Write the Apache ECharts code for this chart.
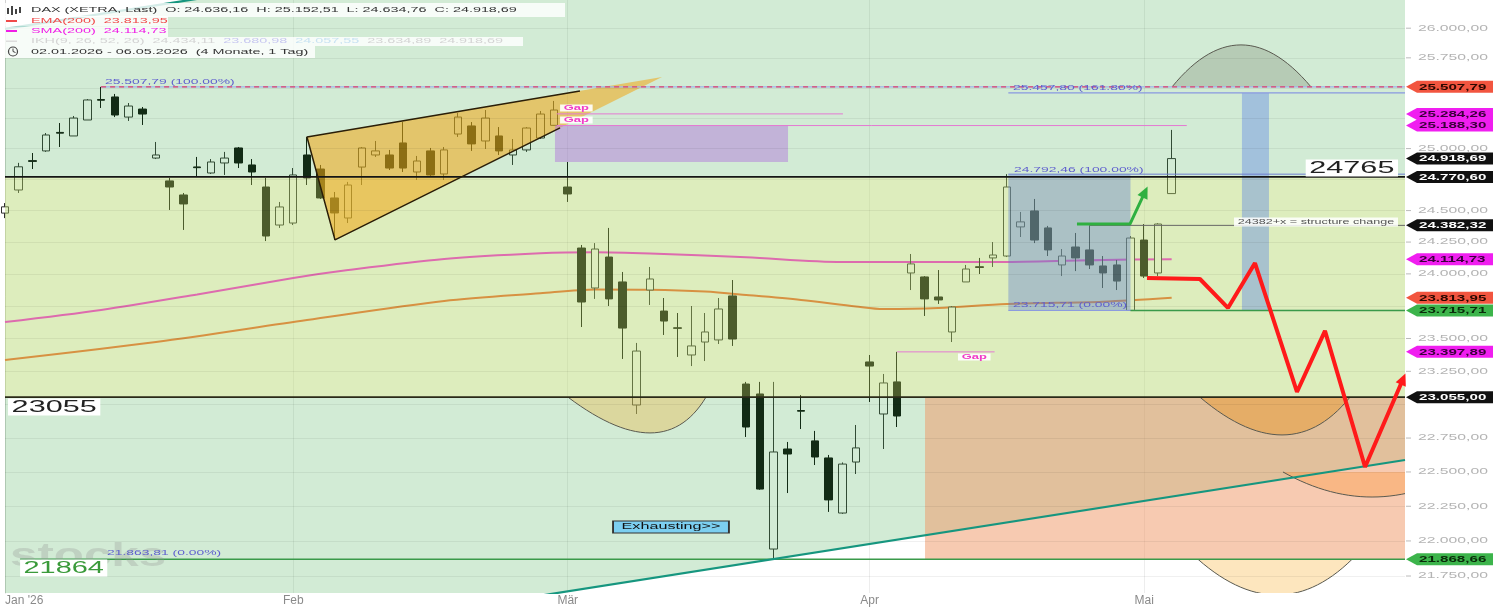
<!DOCTYPE html>
<html>
<head>
<meta charset="utf-8">
<script src="https://cdn.jsdelivr.net/npm/echarts@6/dist/echarts.min.js"></script>
<style>html,body{margin:0;padding:0;background:#fff}#main{width:1507px;height:607px}</style>
</head>
<body>
<div id="main"></div>
<script>
// Handelstage (Xetra) 2026, inkl. Zukunft bis Ende Mai
var tradingDays = {
  '01': [2,5,6,7,8,9,12,13,14,15,16,19,20,21,22,23,26,27,28,29,30],
  '02': [2,3,4,5,6,9,10,11,12,13,16,17,18,19,20,23,24,25,26,27],
  '03': [2,3,4,5,6,9,10,11,12,13,16,17,18,19,20,23,24,25,26,27,30,31],
  '04': [1,2,7,8,9,10,13,14,15,16,17,20,21,22,23,24,27,28,29,30],
  '05': [4,5,6,7,8,11,12,13,14,15,18,19,20,21,22,25,26,27,28,29]
};
var monthNames = {'01': "Jan '26", '02': 'Feb', '03': 'Mär', '04': 'Apr', '05': 'Mai'};

// DAX Tageskerzen [open, high, low, close]
var candles = [
[24480,24560,24440,24530],[24665,24884,24641,24852],[24902,24964,24834,24896],[24981,25127,24973,25111],
[25132,25209,25013,25126],[25103,25267,25103,25250],[25234,25407,25234,25399],[25403,25507.79,25333,25397],
[25424,25449,25258,25275],[25258,25374,25226,25349],[25324,25341,25193,25283],[24923,25054,24915,24948],
[24738,24762,24505,24689],[24625,24641,24346,24553],[24851,24932,24770,24845],[24802,24915,24794,24891],
[24883,24973,24786,24923],[25005,25013,24842,24883],[24867,24915,24705,24810],[24689,24762,24258,24298],
[24385,24569,24362,24529],[24401,24842,24385,24786],[24948,25095,24705,24762],[24834,24867,24593,24601],
[24601,24649,24266,24481],[24441,24730,24401,24705],[24850,25013,24705,25005],[24948,25062,24932,24981],
[24948,24989,24826,24842],[25046,25217,24810,24842],[24810,24940,24746,24899],[24981,25005,24778,24786],
[24794,25013,24746,24989],[25119,25291,25095,25258],[25185,25217,24981,25038],[25062,25316,24997,25250],
[25103,25176,24948,24981],[24948,25078,24867,24989],[24989,25176,24973,25168],[25086,25308,25078,25283],
[25190,25391,25188.3,25316],[24689,24891,24569,24633],[24203,24227,23588,23781],[23890,24242,23805,24195],
[24132,24362,23750,23805],[23937,24015,23344,23580],[22996,23466,22929,23404],[23874,24054,23758,23960],
[23711,23812,23527,23634],[23582,23696,23359,23578],[23374,23750,23290,23443],[23473,23696,23328,23550],
[23489,23812,23458,23727],[23828,23952,23443,23496],[23154,23170,22758,22832],[23079,23170,22370,22375],
[21942,23170,21863.81,22647],[22669,22721,22346,22632],[22955,23071,22817,22950],[22729,22803,22551,22610],
[22603,22625,22209,22296],[22201,22570,22195,22558],[22573,22847,22485,22677],[23321,23374,23019,23290],
[22929,23230,22669,23162],[23170,23397.89,22832,22914],[24007,24156,23874,24078],[23976,23983,23673,23805],
[23820,24030,23766,23797],[23550,23750,23473,23742],[23937,24070,23937,24038],[24056,24125,23999,24050],
[24125,24250,24054,24148],[24140,24792.46,24132,24689],[24370,24489,24290,24410],[24497,24593,24242,24266],
[24362,24378,24140,24188],[24070,24195,23983,24140],[24211,24322,24022,24125],[24188,24382.32,24038,24070],
[24062,24140,23890,24007],[24070,24109,23874,23944],[23715.71,24298,23715.71,24282],[24266,24393,23968,23983],
[24007,24400,23983,24393],[24636.16,25152.51,24634.76,24918.69]
];

// Indikatoren [index, wert]
var sma200 = [[0,23627],[7,23720],[14,23840],[21,23968],[25,24030],[32,24117],[39,24162],[43,24170],[47,24160],
  [54,24130],[61,24093],[68,24093],[73,24093],[80,24109],[85,24114.73]];
var ema200 = [[0,23336],[11,23473],[22,23642],[32,23789],[39,23849],[43,23878],[47,23876],[51,23862],[54,23836],
  [58,23797],[62,23746],[64,23726],[68,23734],[73,23766],[80,23784],[85,23813.95]];

var yTicks = [21750,22000,22250,22500,22750,23000,23250,23500,23750,24000,24250,24500,24750,25000,25250,25500,25750,26000];
var priceTags = [[25507.79,'red'],[25284.26,'mag'],[25188.30,'mag'],[24918.69,'blk'],[24770.60,'blk'],[24382.32,'blk'],
  [24114.73,'mag'],[23813.95,'red'],[23715.71,'grn'],[23397.89,'mag'],[23055.00,'blk'],[21868.66,'grn']];

// Zeichnungen (index, kurs)
var zones = [
  {pts: [[0,25994],[20,26360],[102,26360],[102,24770.6],[0,24770.6]], fill: 'rgba(64,170,77,0.235)'},
  {pts: [[0,24770.6],[102,24770.6],[102,23055],[0,23055]], fill: 'rgba(174,212,99,0.425)'},
  {pts: [[0,23055],[102,23055],[102,22588],[34.61,21545],[0,21545]], fill: 'rgba(64,170,77,0.235)'}
];
var boxes = [
  {pts: [[22.0,25095],[47.87,25590],[24.04,24267]], fill: 'rgba(240,165,20,0.55)'},
  {pts: [[40.07,25188.3],[57.05,25188.3],[57.05,24891],[40.07,24891]], fill: 'rgba(175,110,220,0.45)'},
  {pts: [[73.1,24792.46],[82.0,24792.46],[82.0,23715.71],[73.1,23715.71]], fill: 'rgba(90,120,210,0.38)'},
  {pts: [[90.12,25457.8],[92.09,25457.8],[92.09,23715.71],[90.12,23715.71]], fill: 'rgba(90,130,230,0.4)'},
  {pts: [[67.03,23055],[102,23055],[102,21868.66],[67.03,21868.66]], fill: 'rgba(240,150,100,0.5)'}
];
var arcs = [ // start, scheitel, ende
  {pts: [[85.03,25507.79],[90.05,25859],[95.15,25507.79]], fill: 'rgba(120,130,110,0.3)'},
  {pts: [[41.02,23055],[46.99,22788],[51.07,23055]], fill: 'rgba(230,190,90,0.45)'},
  {pts: [[87.06,23055],[93.04,22773],[97.99,23055]], fill: 'rgba(235,150,40,0.45)'},
  {pts: [[93.11,22500],[99.6,22317],[106.1,22500]], fill: 'rgba(250,160,80,0.45)'},
  {pts: [[86.92,21868.66],[92.68,21616],[98.14,21868.66]], fill: 'rgba(250,200,110,0.45)'}
];
var wedgeEdges = [[41.89,25474],[22.0,25095],[24.04,24267],[40.44,25169]];
var redPath = [[83.2,23968],[87.06,23960],[89.1,23735],[91.07,24085],[94.13,23094],[96.17,23558],[99.09,22536],[101.86,23192]];
var greenArrow = [[78.1,24393],[81.96,24393],[83.06,24649]];
var tealLow = [[34.61,21545],[102,22588]];
var tealHigh = [[0,25994],[20,26360]];

var fibLabels = [['25.507,79 (100.00%)',[7.29,25549]],['21.863,81 (0.00%)',[7.43,21914]],['25.457,80 (161.80%)',[73.44,25499]],
  ['24.792,46 (100.00%)',[73.51,24826]],['23.715,71 (0.00%)',[73.44,23758]]];
var gapLabels = [[40.44,25333],[40.44,25234],[69.43,23359]];

// ---- aufbereitung
var dates = [], monthStart = {};
Object.keys(tradingDays).forEach(function (m) {
  tradingDays[m].forEach(function (d, k) {
    if (k === 0) monthStart[dates.length] = monthNames[m];
    dates.push('2026-' + m + '-' + (d < 10 ? '0' + d : d));
  });
});
var kData = candles.map(function (c) { return [c[0], c[3], c[2], c[1]]; });

function fmt(v) {
  var s = v.toFixed(2).split('.');
  return s[0].replace(/\B(?=(\d{3})+(?!\d))/g, '.') + ',' + s[1];
}

function arcPoints(p) {
  var c = [2 * p[1][0] - (p[0][0] + p[2][0]) / 2, 2 * p[1][1] - (p[0][1] + p[2][1]) / 2], out = [];
  for (var k = 0; k <= 30; k++) {
    var t = k / 30, a = (1 - t) * (1 - t), b = 2 * t * (1 - t), d = t * t;
    out.push([a * p[0][0] + b * c[0] + d * p[2][0], a * p[0][1] + b * c[1] + d * p[2][1]]);
  }
  return out;
}

function shapeSeries(list, z, isArc) {
  return {
    type: 'custom', xAxisIndex: 1, yAxisIndex: 0, z: z, silent: true,
    data: list.map(function (s, k) { return [k]; }),
    renderItem: function (params, api) {
      var s = list[params.dataIndex];
      var pts = s.pts.map(function (p) { return api.coord(p); });
      var cs = params.coordSys;
      var kids = [];
      if (isArc) {
        pts = arcPoints(pts);
        kids.push({type: 'polygon', shape: {points: pts}, style: {fill: s.fill}});
        kids.push({type: 'polyline', shape: {points: pts}, style: {fill: null, stroke: '#5a5a50', lineWidth: 1}});
      } else {
        kids.push({type: 'polygon', shape: {points: pts}, style: {fill: s.fill}});
      }
      return {type: 'group', children: kids,
        clipPath: {type: 'rect', shape: {x: cs.x, y: cs.y, width: cs.width, height: cs.height}}};
    }
  };
}

function lineS(pts, color, width, z, extra) {
  var s = {type: 'line', xAxisIndex: 1, yAxisIndex: 0, data: pts, z: z, silent: true,
    symbol: 'none', showSymbol: true, animation: false,
    lineStyle: {color: color, width: width}, itemStyle: {color: color}};
  if (extra) Object.keys(extra).forEach(function (k) { s[k] = extra[k]; });
  return s;
}

function withArrow(pts, color, rot) {
  return pts.map(function (p, k) {
    if (k < pts.length - 1) return p;
    return {value: p, symbol: 'triangle', symbolSize: [11, 12], symbolRotate: rot, itemStyle: {color: color}};
  });
}

var option = {
  animation: false,
  backgroundColor: '#ffffff',
  grid: {left: 5, right: 102, top: 0, bottom: 14, containLabel: false, outerBoundsMode: 'none'},
  xAxis: [{
    type: 'category', data: dates, boundaryGap: false,
    axisLine: {show: false}, axisTick: {show: false},
    axisLabel: {
      interval: function (i) { return monthStart[i] !== undefined; },
      formatter: function (v, i) { return monthStart[i] || ''; },
      color: '#8a8a8a', fontSize: 12, margin: 2, fontFamily: 'Liberation Sans',
      alignMinLabel: 'left'
    },
    splitLine: {show: true, interval: function (i) { return monthStart[i] !== undefined; },
      lineStyle: {color: 'rgba(0,0,0,0.07)'}}
  }, {
    type: 'value', min: 0, max: 102, show: false
  }],
  yAxis: {
    type: 'log', logBase: 10, min: 21630, max: 26240, position: 'right',
    axisLine: {show: true, lineStyle: {color: '#d2d2d2'}},
    axisTick: {show: false}, axisLabel: {show: false}, splitLine: {show: false}
  },
  series: [
    lineS([[0, 24000]], 'rgba(0,0,0,0)', 0, 1, {
      markLine: {silent: true, symbol: 'none', label: {show: false},
        lineStyle: {color: 'rgba(0,0,0,0.06)', width: 1, type: 'solid'},
        data: yTicks.map(function (v) { return {yAxis: v}; })}
    }),
    {
      type: 'candlestick', xAxisIndex: 0, yAxisIndex: 0, data: kData, barWidth: 8, z: 2,
      itemStyle: {color: '#ffffff', color0: '#050505', borderColor: '#2e2e2e', borderColor0: '#050505', borderWidth: 1}
    },
    lineS(sma200, '#ff1ee6', 2, 2, {smooth: 0.3}),
    lineS(ema200, '#f5602a', 2, 2, {smooth: 0.3}),
    shapeSeries(zones, 3, false),
    shapeSeries(boxes, 4, false),
    shapeSeries(arcs, 4, true),
    lineS([[7, 25507.79], [102, 25507.79]], '#9cb4e8', 1.2, 5),
    lineS([[7, 25507.79], [102, 25507.79]], '#e0406a', 1.2, 5, {lineStyle: {color: '#e0406a', width: 1.2, type: [5, 4]}}),
    lineS([[73.1, 25457.8], [102, 25457.8]], '#8898e0', 1.2, 5),
    lineS([[73.1, 24792.46], [102, 24792.46]], '#6f7fd0', 1, 5),
    lineS([[73.1, 23715.71], [102, 23715.71]], '#8898e0', 1, 5),
    lineS([[82, 23715.71], [102, 23715.71]], '#3a9a4a', 1.5, 5),
    lineS([[40.2, 25284.26], [61.05, 25284.26]], '#e47ad2', 1, 5),
    lineS([[40.2, 25188.3], [86.1, 25188.3]], '#e47ad2', 1, 5),
    lineS([[65, 23397.89], [72.1, 23397.89]], '#e47ad2', 1, 5),
    lineS([[79, 24382.32], [102, 24382.32]], '#666666', 1, 5),
    lineS([[0, 24770.6], [102, 24770.6]], '#151515', 1.6, 5),
    lineS([[0, 23055], [102, 23055]], '#2a2a18', 1.6, 5),
    lineS([[1.1, 21868.66], [102, 21868.66]], '#3a9a4a', 1.6, 5),
    lineS(tealLow, '#16967f', 2.2, 5),
    lineS(tealHigh, '#16967f', 2.2, 5),
    lineS(wedgeEdges, '#2a1e08', 1.5, 5),
    lineS(withArrow(greenArrow, '#2fb040', -25), '#2fb040', 3, 6),
    lineS(withArrow(redPath, '#ff1a1a', -23), '#ff1a1a', 4, 6)
  ]
};

var chart = echarts.init(document.getElementById('main'));
chart.setOption(option);

// ---- texte und preis-marken
var px = function (i) { return chart.convertToPixel({xAxisIndex: 1}, i); };
var py = function (v) { return chart.convertToPixel({yAxisIndex: 0}, v); };
var FF = '"Liberation Sans", Arial, sans-serif';
var SX = 1.85;
var els = [];

function txt(x, y, text, size, fill, o) {
  o = o || {};
  var st = {text: text, x: 0, y: 0, font: (o.bold ? 'bold ' : '') + size + 'px ' + FF, fill: fill,
    align: o.align || 'left', verticalAlign: 'middle'};
  if (o.bg) { st.backgroundColor = o.bg; st.padding = o.pad || [1, 2]; }
  if (o.border) { st.borderColor = o.border; st.borderWidth = 1; }
  if (o.rich) st.rich = o.rich;
  els.push({type: 'text', x: x, y: y, scaleX: o.sx || SX, z: o.z || 20, silent: true, style: st});
}

var axisX = px(102);

// Achsenbeschriftung rechts
yTicks.forEach(function (v) {
  var y = py(v);
  var hidden = priceTags.some(function (t) { return Math.abs(py(t[0]) - y) < 9; });
  if (hidden) return;
  els.push({type: 'line', silent: true, z: 15, shape: {x1: axisX + 1, y1: y, x2: axisX + 6, y2: y}, style: {stroke: '#bbbbbb', lineWidth: 1}});
  txt(axisX + 13, y, fmt(v), 8.5, '#b4b4b4');
});

var tagColors = {red: ['#f2553f', '#2a0800'], mag: ['#f01ef0', '#3a003a'], blk: ['#101010', '#ffffff'], grn: ['#3cb44b', '#0a2a0a']};
priceTags.forEach(function (t) {
  var y = py(t[0]), c = tagColors[t[1]];
  els.push({type: 'polygon', silent: true, z: 25,
    shape: {points: [[axisX + 1, y], [axisX + 12, y - 6], [axisX + 88, y - 6], [axisX + 88, y + 6], [axisX + 12, y + 6]]},
    style: {fill: c[0]}});
  txt(axisX + 14, y + 0.5, fmt(t[0]), 8.5, c[1], {bold: true, z: 26, sx: 1.78});
});

// Fibonacci-Texte
fibLabels.forEach(function (f) {
  txt(px(f[1][0]), py(f[1][1]), f[0], 7.5, '#5f5fcf');
});
gapLabels.forEach(function (g) {
  txt(px(g[0]), py(g[1]), 'Gap', 7, '#f03cc8', {bold: true, bg: 'rgba(255,255,255,0.9)', pad: [0, 2]});
});

// Grosse Markierungen
txt(px(101.49), py(24843), '24765', 17, '#222222', {align: 'right', bg: '#ffffff', pad: [0, 2], sx: 1.8});
txt(px(0.22), py(22981), '23055', 17, '#222222', {bg: '#ffffff', pad: [0, 2], sx: 1.8});
// Wasserzeichen
els.push({type: 'text', x: 10, y: py(21890), scaleX: 1.45, z: 18, silent: true,
  style: {text: 'stocks', x: 0, y: 0, font: 'bold 34px ' + FF, fill: 'rgba(150,150,150,0.3)', verticalAlign: 'middle'}});
txt(px(1.1), py(21807), '21864', 17, '#3a9a3a', {bg: '#ffffff', pad: [0, 2], sx: 1.7});
txt(px(101.49), py(24409), '24382+x = structure change', 6.8, '#555555', {align: 'right', bg: 'rgba(255,255,255,0.85)', pad: [1, 2]});
txt(px(48.45) - 56, py(22100), 'Exhausting>>', 8.5, '#111111', {bg: '#7ccff0', border: '#333333', pad: [1, 4], sx: 1.9});

// Legende oben links
[[3, 3, 562, 14], [3, 16, 165, 10.5], [3, 26.5, 165, 10.5], [3, 37, 520, 9], [3, 46, 312, 12]].forEach(function (r) {
  els.push({type: 'rect', silent: true, z: 19, shape: {x: r[0], y: r[1], width: r[2], height: r[3]}, style: {fill: 'rgba(255,255,255,0.82)'}});
});
[[7, 8, 2, 6], [11, 6, 2, 9], [15, 9, 2, 5], [19, 7, 2, 6]].forEach(function (r) {
  els.push({type: 'rect', silent: true, z: 20, shape: {x: r[0], y: r[1], width: r[2], height: r[3]}, style: {fill: '#444'}});
});
els.push({type: 'rect', silent: true, z: 20, shape: {x: 6, y: 20, width: 11, height: 2}, style: {fill: '#f04a4a'}});
els.push({type: 'rect', silent: true, z: 20, shape: {x: 6, y: 30, width: 11, height: 2}, style: {fill: '#f01ee6'}});
els.push({type: 'rect', silent: true, z: 20, shape: {x: 6, y: 40.5, width: 11, height: 1.5}, style: {fill: '#dddddd'}});
els.push({type: 'circle', silent: true, z: 20, shape: {cx: 13, cy: 51.5, r: 4.5}, style: {fill: 'none', stroke: '#444', lineWidth: 1.2}});
els.push({type: 'polyline', silent: true, z: 20, shape: {points: [[13, 48.5], [13, 51.5], [15.5, 52.5]]}, style: {fill: 'none', stroke: '#444', lineWidth: 1}});
var LF = 7.2, LS = 2.0;
txt(31, 10, 'DAX (XETRA, Last)  O: 24.636,16  H: 25.152,51  L: 24.634,76  C: 24.918,69', LF, '#333333', {sx: LS});
txt(31, 21, 'EMA(200)  23.813,95', LF, '#f04a4a', {sx: LS});
txt(31, 31.5, 'SMA(200)  24.114,73', LF, '#f01ee6', {sx: LS});
txt(31, 41.5, '{a|IKH(9, 26, 52, 26)  24.434,11}  {b|23.680,98}  {c|24.057,55}  {a|23.634,89  24.918,69}', LF, '#d4d4d4', {sx: LS,
  rich: {a: {fill: '#d4d4d4', font: LF + 'px ' + FF}, b: {fill: '#c8c8f0', font: LF + 'px ' + FF}, c: {fill: '#c8e2f2', font: LF + 'px ' + FF}}});
txt(31, 52, '02.01.2026 - 06.05.2026  (4 Monate, 1 Tag)', LF, '#333333', {sx: LS});

chart.setOption({graphic: {elements: els}});
</script>
</body>
</html>
